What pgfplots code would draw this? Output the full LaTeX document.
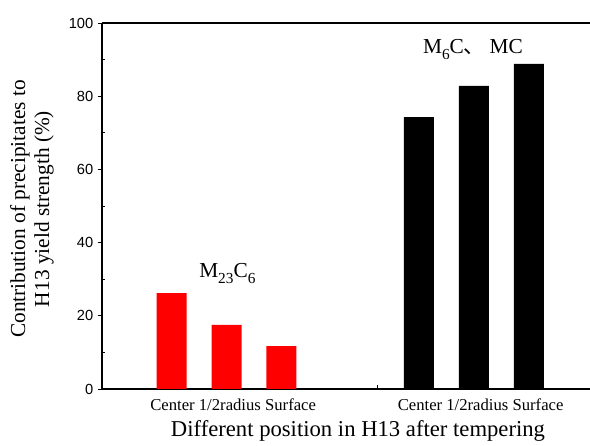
\documentclass[border=0pt]{standalone}
\usepackage{fontspec}
\setmainfont{Liberation Serif}
\setsansfont{Liberation Sans}
\newfontfamily\cjk{Noto Sans CJK SC}
\usepackage{pgfplots}
\pgfplotsset{compat=1.18}
% low, large subscripts as in the original figure
\newcommand{\lsub}[1]{\raisebox{-0.32em}{\fontsize{11.5}{12}\selectfont #1}}

\begin{document}
\begin{tikzpicture}
\begin{axis}[
    at={(0,0)}, anchor=south west,
    scale only axis,
    width=366pt, height=274.5pt,
    axis x line*=box, axis y line*=left,
    axis line style={line width=0.8pt},
    xmin=-1.264, xmax=7.61,
    ymin=0, ymax=100,
    ytick={0,20,...,100},
    minor y tick num=1,
    tick align=outside,
    major tick length=3pt,
    minor tick length=2.5pt,
    minor y tick style={xshift=2.5pt},
    tick style={line width=0.6pt, black},
    yticklabel style={font=\sffamily\fontsize{11}{12}\selectfont},
    /pgf/number format/assume math mode=true,
    xtick={1,5.5},
    xticklabels={Center 1/2radius Surface, Center 1/2radius Surface},
    xtick pos=bottom, ytick pos=left,
    xtick style={draw=none},
    xticklabel style={font=\fontsize{12.5}{14}\selectfont, xshift=5pt, yshift=-1pt},
    extra x ticks={3.75},
    extra x tick labels={},
    extra x tick style={tick align=inside, major tick length=3pt, xtick style={draw=black}},
    bar width=22.5pt,
    clip=false,
]
\addplot[ybar, fill=red, draw=none] coordinates {(0,26.2) (1,17.5) (2,11.7)};
\addplot[ybar, fill=black, draw=none] coordinates {(4.5,74.3) (5.5,82.8) (6.5,88.8)};
\node[font=\fontsize{16}{18}\selectfont, anchor=base west, inner sep=0pt] at (axis cs:0.5,30.6) {M\lsub{23}C\lsub{6}};
\node[font=\fontsize{16}{18}\selectfont, anchor=base west, inner sep=0pt] at (axis cs:4.57,91.8) {M\lsub{6}C{\cjk 、}\hspace{0.2em}MC};
\end{axis}
\node[font=\fontsize{17}{19}\selectfont] at (192pt,-31.5pt) {Different position in H13 after tempering};
\node[rotate=90, align=center, font=\fontsize{16}{18}\selectfont] at (-52.5pt,135pt) {Contribution of precipitates to\\H13 yield strength (\%)};
\pgfresetboundingbox
\path[use as bounding box] (-76.5pt,-42.75pt) rectangle (366pt,291.75pt);
\end{tikzpicture}
\end{document}
